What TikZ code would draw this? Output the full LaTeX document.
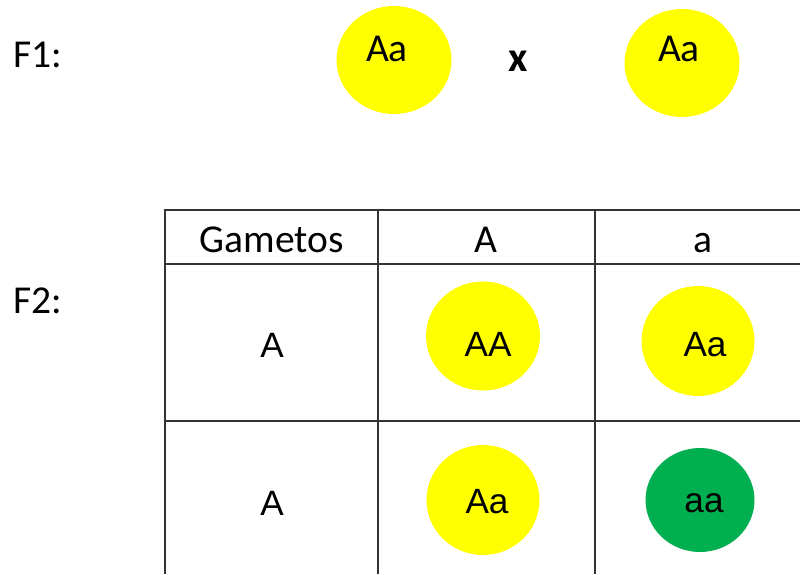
\documentclass[tikz,border=0pt]{standalone}
\usepackage{fontspec}
\setmainfont{Carlito}
\newfontfamily\arialfont{Liberation Sans}
\usepackage{tikz}
\usetikzlibrary{shapes.geometric}
\definecolor{alleleyellow}{RGB}{255,255,0}
\definecolor{allelegreen}{RGB}{0,176,80}
\tikzset{
  parentdot/.style={ellipse, fill=alleleyellow, inner sep=0pt,
    minimum width=2.3cm, minimum height=2.16cm},
  genodot/.style={ellipse, fill=alleleyellow, inner sep=0pt,
    minimum width=2.26cm, minimum height=2.2cm},
  genotxt/.style={anchor=base, inner sep=0pt,
    font=\arialfont\fontsize{20}{24}\selectfont},
  lbl/.style={anchor=base, inner sep=0pt,
    font=\fontsize{22.5}{27}\selectfont},
  gridline/.style={line width=1.1pt, draw=black!80},
}

\begin{document}
\begin{tikzpicture}[x=0.02cm, y=-0.02cm]
  \useasboundingbox (0,0) rectangle (800,574);

  % Generation labels
  \node[lbl, anchor=base west] (f1) at (13,68) {F1:};
  \node[lbl, anchor=base west] (f2) at (13,313) {F2:};

  % F1 cross
  \node[parentdot] (p1) at (394,60) {};
  \node[parentdot] (p2) at (682,63) {};
  \node[lbl] (p1txt) at (387,62) {Aa};
  \node[lbl] (p2txt) at (679,62) {Aa};
  \node[lbl, font=\bfseries\fontsize{24}{28}\selectfont] (cross) at (518,72) {x};

  % Punnett square
  \draw[gridline] (800,210) -| (165,574);
  \foreach \y in {264,421}
    \draw[gridline] (165,\y) -- (800,\y);
  \foreach \x in {378,595}
    \draw[gridline] (\x,210) -- (\x,574);

  % Header row
  \node[lbl] (head) at (272,252) {Gametos};
  \node[lbl] (gA) at (486,252) {A};
  \node[lbl] (ga) at (703,252) {a};

  % Row gametes
  \node[genotxt] (rA1) at (272,357) {A};
  \node[genotxt] (rA2) at (272,515) {A};

  % Offspring
  \node[genodot, minimum width=2.28cm, minimum height=2.18cm] (g11) at (483,336) {};
  \node[genodot] (g12) at (698,341) {};
  \node[genodot] (g21) at (483,500) {};
  \node[genodot, fill=allelegreen, minimum width=2.18cm,
        minimum height=2.08cm] (g22) at (700,500) {};
  \node[genotxt] (t11) at (488,356) {AA};
  \node[genotxt] (t12) at (705,356) {Aa};
  \node[genotxt] (t21) at (487,513) {Aa};
  \node[genotxt] (t22) at (704,512) {aa};
\end{tikzpicture}
\end{document}
